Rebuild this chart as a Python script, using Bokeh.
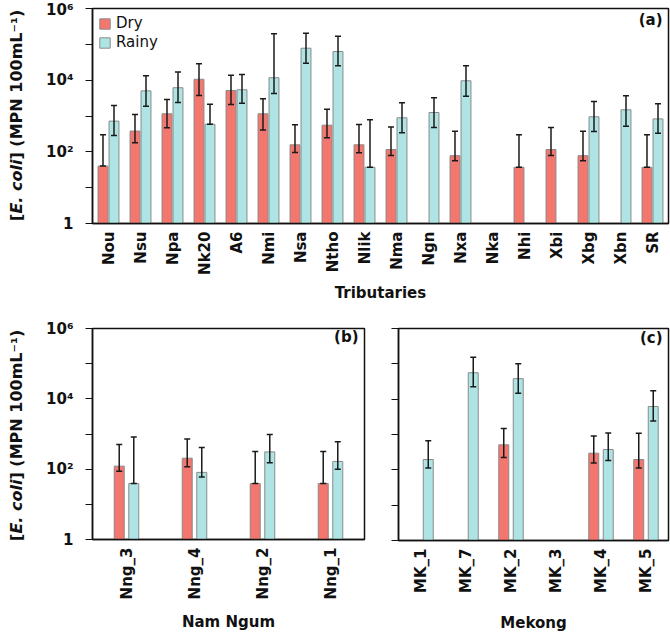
import math
from bokeh.plotting import figure
from bokeh.models import (FactorRange, Range1d, ColumnDataSource, Whisker, TeeHead,
                          Label, FixedTicker)
from bokeh.transform import dodge
from bokeh.layouts import column, row
from bokeh.embed import file_html
from bokeh.resources import INLINE

# ---------------- data ----------------
trib_cats = ["Nou", "Nsu", "Npa", "Nk20", "A6", "Nmi", "Nsa", "Ntho", "Nlik", "Nma",
             "Ngn", "Nxa", "Nka", "Nhi", "Xbi", "Xbg", "Xbn", "SR"]
trib_dry = [40, 380, 1150, 10600, 5150, 1150, 157, 555, 157, 116,
            None, 78, None, 37, 116, 78, None, 37]
trib_dry_lo = [40, 178, 470, 3730, 2100, 410, 96, 247, 94, 79,
               None, 56, None, 37, 79, 56, None, 37]
trib_dry_hi = [300, 1100, 2900, 28600, 13800, 3020, 570, 1550, 580, 490,
               None, 376, None, 300, 475, 376, None, 300]
trib_rainy = [720, 5030, 6150, 590, 5390, 11700, 78000, 63000, 37, 890,
              1250, 9600, None, None, None, 950, 1490, 830]
trib_rainy_lo = [285, 1880, 2390, 590, 2280, 4240, 29800, 25200, 37, 340,
                 480, 3570, None, None, None, 370, 520, 330]
trib_rainy_hi = [1950, 13200, 17000, 2130, 14400, 196000, 205000, 168000, 780, 2340,
                 3220, 25200, None, None, None, 2530, 3650, 2190]

nng_cats = ["Nng_3", "Nng_4", "Nng_2", "Nng_1"]
nng_dry = [122, 205, 39, 39]
nng_dry_lo = [87, 117, 39, 39]
nng_dry_hi = [505, 715, 316, 316]
nng_rainy = [39, 81, 310, 166]
nng_rainy_lo = [39, 60, 151, 100]
nng_rainy_hi = [815, 410, 970, 605]

mk_cats = ["MK_1", "MK_7", "MK_2", "MK_3", "MK_4", "MK_5"]
mk_dry = [None, None, 510, None, 296, 196]
mk_dry_lo = [None, None, 223, None, 155, 112]
mk_dry_hi = [None, None, 1490, None, 910, 1080]
mk_rainy = [196, 56000, 38000, None, 375, 6200]
mk_rainy_lo = [112, 22600, 14700, None, 183, 2400]
mk_rainy_hi = [670, 154000, 100000, None, 1100, 17400]

y_ticks = [1, 10, 100, 1000, 10000, 100000, 1000000]
y_tick_labels = ["1", "", "10\u00b2", "", "10\u2074", "", "10\u2076"]

# ---------------- style ----------------
FONT = "DejaVu Sans"
DRY_COLOR = "#F3776F"
RAINY_COLOR = "#AFE4E4"
BAR_LINE = "#8a8a8a"
ERR_COLOR = "#1a1a1a"
INK = "#111111"
YLAB_W = 30


def no_frame_align(fig):
    try:
        fig.frame_align = False
    except Exception:
        pass


def src_of(cats, v, lo, hi):
    d = dict(cat=[], val=[], lo=[], hi=[])
    for c, a, b, e in zip(cats, v, lo, hi):
        if a is None:
            continue
        d["cat"].append(c)
        d["val"].append(a)
        d["lo"].append(b)
        d["hi"].append(e)
    return ColumnDataSource(d)


def make_panel(cats, series, width, height, borders, off, bw, xlabel, xlabel_standoff,
               tag, frame_w, frame_h, show_ylabels=True, legend=False):
    ml, mr, mt, mb = borders
    p = figure(x_range=FactorRange(factors=cats, range_padding=0),
               y_axis_type="log", y_range=Range1d(1, 1e6),
               width=width, height=height, output_backend="svg",
               toolbar_location=None, min_border_left=ml, min_border_right=mr,
               min_border_top=mt, min_border_bottom=mb)
    no_frame_align(p)
    p.background_fill_color = "white"
    p.border_fill_color = "white"
    p.xgrid.grid_line_color = None
    p.ygrid.grid_line_color = None
    p.outline_line_color = INK
    p.outline_line_width = 1.5

    for (name, vals, lo, hi, color, sign) in series:
        src = src_of(cats, vals, lo, hi)
        kw = dict(legend_label=name) if legend else {}
        p.vbar(x=dodge("cat", sign * off, range=p.x_range), top="val", bottom=1,
               width=bw, source=src, fill_color=color, line_color=BAR_LINE,
               line_width=1, **kw)
        w = Whisker(source=src, base=dodge("cat", sign * off, range=p.x_range),
                    upper="hi", lower="lo", dimension="height", level="annotation",
                    line_color=ERR_COLOR, line_width=1.5,
                    upper_head=TeeHead(size=6, line_color=ERR_COLOR, line_width=1.5),
                    lower_head=TeeHead(size=6, line_color=ERR_COLOR, line_width=1.5))
        p.add_layout(w)

    ya = p.yaxis[0]
    ya.ticker = FixedTicker(ticks=y_ticks, minor_ticks=[])
    if show_ylabels:
        ya.major_label_overrides = {float(t): l for t, l in zip(y_ticks, y_tick_labels)}
    else:
        ya.major_label_overrides = {float(t): "" for t in y_ticks}
    ya.major_label_text_font = FONT
    ya.major_label_text_font_style = "bold"
    ya.major_label_text_font_size = "15px"
    ya.major_label_text_color = INK
    ya.major_tick_out = 7
    ya.major_tick_in = 0
    ya.minor_tick_line_color = None
    ya.major_label_standoff = 12
    ya.axis_line_color = INK
    ya.axis_line_width = 1.5
    ya.major_tick_line_color = INK
    ya.major_tick_line_width = 1.2

    xa = p.xaxis[0]
    xa.major_label_orientation = math.pi / 2
    xa.major_label_text_font = FONT
    xa.major_label_text_font_style = "bold"
    xa.major_label_text_font_size = "15px"
    xa.major_label_text_color = INK
    xa.major_tick_line_color = None
    xa.major_tick_out = 0
    xa.major_tick_in = 0
    xa.minor_tick_line_color = None
    xa.major_label_standoff = 8
    xa.axis_line_color = INK
    xa.axis_line_width = 1.5
    xa.axis_label = xlabel
    xa.axis_label_text_font = FONT
    xa.axis_label_text_font_style = "bold"
    xa.axis_label_text_font_size = "15px"
    xa.axis_label_text_color = INK
    xa.axis_label_standoff = xlabel_standoff

    p.add_layout(Label(x=frame_w - 6, y=frame_h - 11, x_units="screen", y_units="screen",
                       text=tag, text_font=FONT, text_font_style="bold",
                       text_font_size="15px", text_align="right",
                       text_baseline="middle", text_color=INK))
    return p


def ylabel_fig(height, center_from_top, x):
    f = figure(width=YLAB_W, height=height, output_backend="svg", toolbar_location=None,
               x_axis_location=None, y_axis_location=None, title=None,
               min_border=0, min_border_left=0, min_border_right=0,
               min_border_top=0, min_border_bottom=0,
               x_range=Range1d(0, YLAB_W), y_range=Range1d(0, height))
    no_frame_align(f)
    f.outline_line_color = None
    f.xgrid.grid_line_color = None
    f.ygrid.grid_line_color = None
    fs = 16
    pieces = [("[", "bold", 0.457),
              ("E. coli", "bold italic", 3.377),
              ("] (MPN 100mL\u207b\u00b9)", "bold", 9.279)]
    total = sum(w for _, _, w in pieces) * fs
    pos = (height - center_from_top) - total / 2
    for text, style, w in pieces:
        f.add_layout(Label(x=x, y=pos, x_units="screen", y_units="screen", text=text,
                           angle=math.pi / 2, text_font=FONT, text_font_style=style,
                           text_font_size=f"{fs}px", text_align="left",
                           text_baseline="middle", text_color=INK))
        pos += w * fs
    return f


# ---------------- panels ----------------
TOP_H = 318
BOT_H = 316

pa = make_panel(trib_cats,
                [("Dry", trib_dry, trib_dry_lo, trib_dry_hi, DRY_COLOR, -1),
                 ("Rainy", trib_rainy, trib_rainy_lo, trib_rainy_hi, RAINY_COLOR, 1)],
                width=670 - YLAB_W, height=TOP_H, borders=(92 - YLAB_W, 2, 8, 95),
                off=0.172, bw=0.31, xlabel="Tributaries", xlabel_standoff=6,
                tag="(a)", frame_w=576, frame_h=215, legend=True)

pa.legend.location = "top_left"
pa.legend.margin = 6
pa.legend.padding = 5
pa.legend.spacing = 1
pa.legend.glyph_width = 13
pa.legend.glyph_height = 13
pa.legend.label_height = 13
pa.legend.label_standoff = 5
pa.legend.label_text_font = FONT
pa.legend.label_text_font_size = "15px"
pa.legend.label_text_color = INK
pa.legend.border_line_color = None
pa.legend.background_fill_alpha = 0

pb = make_panel(nng_cats,
                [("Dry", nng_dry, nng_dry_lo, nng_dry_hi, DRY_COLOR, -1),
                 ("Rainy", nng_rainy, nng_rainy_lo, nng_rainy_hi, RAINY_COLOR, 1)],
                width=368 - YLAB_W, height=BOT_H, borders=(92 - YLAB_W, 4, 10, 92),
                off=0.107, bw=0.147, xlabel="Nam Ngum", xlabel_standoff=11,
                tag="(b)", frame_w=272, frame_h=214)

pc = make_panel(mk_cats,
                [("Dry", mk_dry, mk_dry_lo, mk_dry_hi, DRY_COLOR, -1),
                 ("Rainy", mk_rainy, mk_rainy_lo, mk_rainy_hi, RAINY_COLOR, 1)],
                width=302, height=BOT_H, borders=(30, 2, 10, 92),
                off=0.161, bw=0.222, xlabel="Mekong", xlabel_standoff=18,
                tag="(c)", frame_w=270, frame_h=214, show_ylabels=False)

ya_fig = ylabel_fig(TOP_H, 115.5, 16)
yb_fig = ylabel_fig(BOT_H, 117.5, 16)

layout = column(row(ya_fig, pa, spacing=0), row(yb_fig, pb, pc, spacing=0), spacing=0)

open("out.html", "w").write(file_html(layout, INLINE))
